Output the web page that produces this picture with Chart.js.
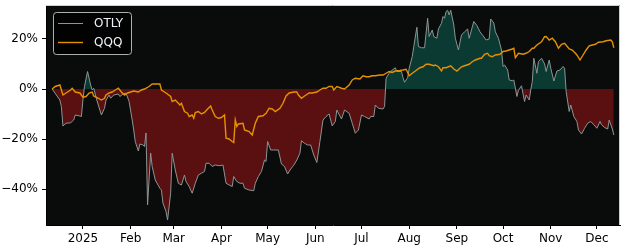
<!DOCTYPE html>
<html>
<head>
<meta charset="utf-8">
<script src="https://cdn.jsdelivr.net/npm/chart.js@4/dist/chart.umd.min.js"></script>
<style>
  body { margin: 0; background: #fff; }
  canvas { display: block; }
</style>
</head>
<body>
<canvas id="perfChart" width="625" height="250"></canvas>
<script>
// days are counted from 2025-01-01, values are % change since start
const otlyDays = [
  -20, -15, -14, -13, -11, -8, -6, -5, -2, -1,
  0, 1, 3, 5, 6, 7, 9, 11, 12, 14,
  15, 17, 18, 20, 23, 24, 26, 28, 30, 32,
  33, 34, 36, 37, 39, 40, 41, 42, 44, 45,
  47, 50, 51, 52, 54, 55, 57, 58, 60, 62,
  64, 66, 67, 69, 71, 73, 75, 77, 79, 80,
  82, 84, 86, 89, 91, 93, 95, 97, 98, 100,
  102, 104, 105, 108, 111, 112, 114, 116, 118, 119,
  120, 122, 124, 127, 129, 131, 133, 135, 137, 139,
  141, 142, 144, 146, 148, 150, 152, 154, 156, 158,
  160, 162, 164, 165, 168, 170, 173, 175, 176, 177,
  179, 181, 183, 186, 187, 189, 190, 192, 195, 196,
  197, 199, 201, 203, 204, 207, 208, 209, 211, 212,
  214, 215, 217, 218, 220, 222, 224, 225, 227, 228,
  230, 231, 233, 234, 235, 236, 237, 238, 239, 241,
  242, 244, 246, 248, 250, 251, 254, 256, 258, 260,
  262, 264, 265, 267, 268, 270, 272, 273, 274, 276,
  277, 279, 280, 282, 283, 285, 286, 287, 288, 290,
  291, 292, 293, 295, 296, 298, 300, 301, 303, 304,
  306, 308, 310, 312, 313, 314, 316, 317, 319, 321,
  322, 324, 326, 328, 330, 332, 334, 336, 337, 339,
  341, 342, 344, 345
];
const otlyValues = [
  0, -4.4, -7, -14.8, -13.7, -13.5, -12.4, -10.4, -10.8, -11,
  -4.4, 1, 7, 1.6, -0.4, 0.3, -4.4, -8.4, -10.4, -7.7,
  -4.4, -2.4, -3.7, -2.4, -2, -3, -2, -1.6, -5, -12.4,
  -16.4, -21, -24.8, -22, -22.4, -23, -17.6, -46.4, -25.6, -31,
  -36.4, -39.7, -40.4, -45.7, -49, -52.4, -41.7, -25.7, -32.4, -37.7,
  -38.4, -34.4, -37, -39, -41.7, -37.7, -34.4, -33.7, -33, -29.7,
  -29.7, -31, -30.4, -30.7, -30.4, -37.7, -38.4, -39, -35, -37,
  -37.7, -37.7, -39.7, -40.4, -40.7, -37.7, -35, -33, -28.4, -29,
  -21, -24.4, -24.4, -24.4, -30, -31, -34, -32, -30.5, -28.4,
  -25.7, -20.7, -21.7, -22.4, -22.4, -26.4, -29.4, -21, -12.4, -11,
  -10, -14.8, -13, -8.4, -12, -8.4, -9.7, -13.7, -15.7, -17.7,
  -16.4, -10.4, -11, -12, -11, -11, -6.4, -7.7, -8, -7,
  4.3, 6.3, 7.6, 8.5, 7, 7, 4.5, 2.7, 4.5, 8.3,
  13, 17, 24.7, 17, 16.5, 16.5, 28.3, 21, 23.6, 21,
  20.3, 24, 26.3, 29, 28.3, 31, 31.5, 29.6, 31.5, 25.6,
  20.3, 15.6, 21.6, 22.9, 24, 20.3, 27, 25.4, 22.9, 21.3,
  19.6, 20, 28, 26.4, 22.9, 20.3, 15.6, 9, 9.6, 7.6,
  3.6, 3.3, 3.6, -3, -0.5, 1.3, -2, -5, -2.4, -4.4,
  -0.4, 3, 12.3, 6.3, 11, 12.3, 10, 7, 11.6, 8.3,
  3.2, 7.2, 7.6, 9, 8.3, -1, -9, -6.4, -11, -13,
  -16.4, -18, -15.7, -13.7, -13, -14.3, -15.7, -13, -14.3, -15.4,
  -16, -12.4, -16, -18.4
];

const qqqDays = [
  -20, -18, -15, -13, -11, -8, -7, -5, -2, 0,
  2, 4, 6, 7, 10, 12, 14, 15, 17, 19,
  21, 23, 25, 27, 29, 31, 33, 36, 38, 40,
  43, 45, 50, 51, 54, 57, 58, 60, 62, 63,
  64, 66, 68, 69, 71, 72, 73, 75, 77, 79,
  81, 83, 84, 86, 88, 90, 92, 93, 95, 97,
  98, 99, 100, 101, 104, 105, 108, 110, 112, 114,
  117, 119, 121, 123, 125, 128, 130, 132, 134, 137,
  139, 140, 142, 144, 147, 149, 152, 154, 156, 158,
  160, 162, 163, 165, 168, 170, 173, 175, 177, 180,
  182, 184, 186, 188, 190, 193, 195, 197, 199, 201,
  203, 206, 208, 210, 212, 214, 216, 219, 221, 223,
  225, 228, 229, 231, 233, 234, 236, 239, 241, 243,
  246, 248, 251, 253, 255, 258, 259, 261, 263, 264,
  266, 268, 271, 273, 275, 277, 279, 280, 281, 283,
  286, 288, 290, 292, 293, 295, 298, 300, 301, 303,
  305, 307, 309, 311, 313, 316, 318, 320, 321, 323,
  325, 327, 329, 331, 333, 335, 338, 340, 343, 344,
  345
];
const qqqValues = [
  0, 1, 1.6, -2.4, -1.6, -0.4, 0.3, -1.2, -1.6, -3.3,
  -3, -1.6, -1.2, -2.8, -3.7, -4.4, -3.7, -2.4, -1.6, -1.2,
  -0.4, 0.3, -1.2, -2.4, -1.6, -1.2, -0.8, -1.2, -0.4, 0,
  1, 2, 2, -0.4, -1.6, -3, -5, -4.4, -5.7, -6.4,
  -5.7, -9, -9.7, -11, -10.4, -11.7, -9.4, -9, -10, -9.4,
  -8, -6.8, -8.4, -11, -11.7, -11.4, -10.4, -19.7, -20, -21,
  -21.4, -12.4, -15, -14, -13.7, -16.4, -17, -18.4, -13.7, -11,
  -10.7, -9.7, -7.7, -8, -9, -7.7, -5.7, -2.8, -1.6, -1.2,
  -1.2, -2.4, -3.7, -2.8, -1.6, -1.6, -1.2, -0.4, 0.3, 0.3,
  1, 1, -0.4, 1, 0.3, 0, 1.6, 3.6, 4.3, 4,
  5.3, 4.9, 4.9, 5.3, 5.3, 5.6, 5.6, 6.3, 7, 6.6,
  7.2, 7.4, 7.6, 7.9, 5.3, 6.3, 7.2, 8.5, 8.9, 9.9,
  9.9, 9.3, 9.6, 8.9, 7.2, 8.5, 8.5, 9.3, 8, 7.2,
  8.9, 9.3, 9.9, 10.9, 11.6, 12.3, 12.3, 13.9, 14.3, 13.3,
  12.9, 13.6, 13.9, 15, 15.2, 15.6, 16, 16.3, 12.5, 14.3,
  13.9, 14.3, 15, 16.3, 16.3, 17.6, 18.9, 20.9, 21, 19.6,
  20.3, 18.9, 16.3, 17.9, 18.3, 16, 15.6, 14.3, 13.6, 11.6,
  13.6, 15.6, 17.3, 17.6, 17.9, 18.7, 18.9, 19.3, 19.6, 18.9,
  16.5
];

const monthTickDays = [0, 31, 59, 90, 120, 151, 181, 212, 243, 273, 304, 334];
const monthTickLabels = ['2025', 'Feb', 'Mar', 'Apr', 'May', 'Jun', 'Jul', 'Aug', 'Sep', 'Oct', 'Nov', 'Dec'];
const yTickValues = [20, 0, -20, -40];

const FONT = '"DejaVu Sans", sans-serif';
const OTLY_LINE = '#8a9595';
const QQQ_LINE = '#e69200';

const toPoints = (xs, ys) => xs.map((x, i) => ({ x: x, y: ys[i] }));

// dark plot background, light top/right frame and the legend box
const framePlugin = {
  id: 'frame',
  beforeDraw(chart) {
    const { ctx, chartArea: a } = chart;
    ctx.save();
    ctx.fillStyle = '#ffffff';
    ctx.fillRect(0, 0, chart.width, chart.height);
    ctx.fillStyle = '#0a0b0b';
    ctx.fillRect(a.left, a.top, a.right - a.left, a.bottom - a.top);
    ctx.restore();
  },
  afterDraw(chart) {
    const { ctx, chartArea: a } = chart;
    ctx.save();
    ctx.strokeStyle = '#cfcfcf';
    ctx.lineWidth = 1;
    ctx.beginPath();
    ctx.moveTo(a.left, a.top + 0.5);
    ctx.lineTo(a.right - 0.5, a.top + 0.5);
    ctx.lineTo(a.right - 0.5, a.bottom);
    ctx.stroke();

    // legend
    const bx = 53.5, by = 12.5, bw = 78, bh = 42;
    ctx.fillStyle = 'rgba(0,0,0,0.8)';
    ctx.strokeStyle = 'rgba(204,204,204,0.85)';
    ctx.beginPath();
    ctx.roundRect(bx, by, bw, bh, 3);
    ctx.fill();
    ctx.stroke();

    const rows = [
      { label: 'OTLY', color: OTLY_LINE, y: 23.5 },
      { label: 'QQQ', color: QQQ_LINE, y: 42.5 }
    ];
    ctx.font = '12px ' + FONT;
    ctx.textBaseline = 'middle';
    rows.forEach(r => {
      ctx.strokeStyle = r.color;
      ctx.lineWidth = r.label === 'QQQ' ? 1.4 : 1;
      ctx.beginPath();
      ctx.moveTo(58, r.y);
      ctx.lineTo(83, r.y);
      ctx.stroke();
      ctx.fillStyle = '#eef2f6';
      ctx.fillText(r.label, 94, r.y + 0.5);
    });
    ctx.restore();
  }
};

new Chart(document.getElementById('perfChart'), {
  type: 'line',
  data: {
    datasets: [
      {
        label: 'QQQ',
        data: toPoints(qqqDays, qqqValues),
        borderColor: QQQ_LINE,
        borderWidth: 1.4,
        pointRadius: 0,
        fill: false,
        order: 0
      },
      {
        label: 'OTLY',
        data: toPoints(otlyDays, otlyValues),
        borderColor: OTLY_LINE,
        borderWidth: 1,
        pointRadius: 0,
        fill: {
          target: { value: 0 },
          above: '#0a3a31',
          below: '#5a1010'
        },
        order: 1
      }
    ]
  },
  options: {
    responsive: false,
    animation: false,
    layout: { padding: { top: 5, right: 5, left: 0, bottom: 0 } },
    plugins: {
      legend: { display: false },
      tooltip: { enabled: false }
    },
    scales: {
      x: {
        type: 'linear',
        min: -24,
        max: 349,
        afterBuildTicks: scale => {
          scale.ticks = monthTickDays.map(d => ({ value: d }));
        },
        afterFit: scale => {
          scale.height = 25;
          scale.paddingLeft = 0;
          scale.paddingRight = 0;
        },
        ticks: {
          autoSkip: false,
          maxRotation: 0,
          padding: 3,
          color: '#000',
          font: { family: FONT, size: 12 },
          callback: (value, index) => monthTickLabels[index]
        },
        grid: { drawOnChartArea: false, tickLength: 4, tickColor: '#000' },
        border: { display: true, color: '#000' }
      },
      y: {
        min: -54.4,
        max: 33.6,
        afterBuildTicks: scale => {
          scale.ticks = yTickValues.map(v => ({ value: v }));
        },
        afterFit: scale => {
          scale.width = 46;
          scale.paddingTop = 0;
          scale.paddingBottom = 0;
        },
        ticks: {
          padding: 4,
          color: '#000',
          font: { family: FONT, size: 12 },
          callback: value => (value < 0 ? '\u2212' : '') + Math.abs(value) + '%'
        },
        grid: { drawOnChartArea: false, tickLength: 4, tickColor: '#000' },
        border: { display: true, color: '#000' }
      }
    }
  },
  plugins: [framePlugin]
});
</script>
</body>
</html>
